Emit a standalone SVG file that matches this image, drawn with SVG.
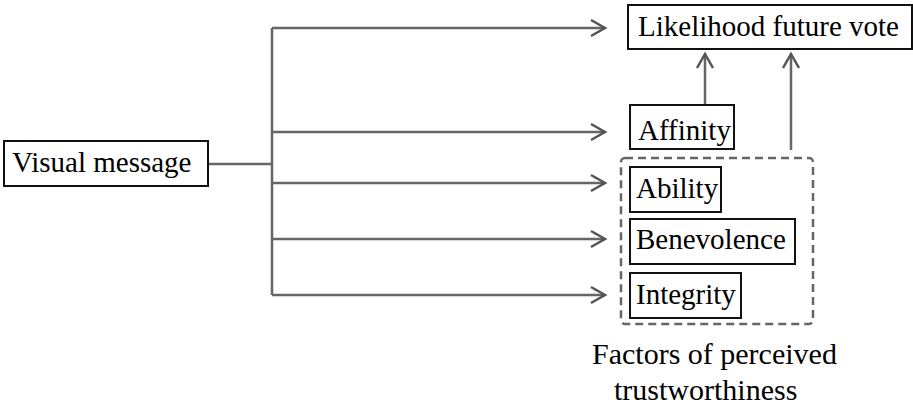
<svg xmlns="http://www.w3.org/2000/svg" width="913" height="405" viewBox="0 0 913 405">
  <style>
    .box { fill: #fff; stroke: #111; stroke-width: 2; }
    .lbl { font-family: "Times New Roman", "Liberation Serif", Tinos, serif; font-size: 29px; fill: #000; }
    .cap { font-size: 30px; }
    .wire { fill: none; stroke: #666; stroke-width: 2.5; }
    .group { fill: none; stroke: #666; stroke-width: 2.5; stroke-dasharray: 8 5; }
  </style>
  <defs>
    <marker id="chev" markerUnits="userSpaceOnUse" markerWidth="20" markerHeight="20" viewBox="-16 -10 20 20" refX="0" refY="0" orient="auto">
      <path d="M-14,-8 L0,0 L-14,8" fill="none" stroke="#555" stroke-width="2.5"/>
    </marker>
  </defs>
  <rect width="913" height="405" fill="#fff"/>

  <g id="connectors">
    <path class="wire" d="M208,164 H272"/>
    <path class="wire" d="M272,28 V295"/>
    <path class="wire" d="M272,28 H605" marker-end="url(#chev)"/>
    <path class="wire" d="M272,132 H605" marker-end="url(#chev)"/>
    <path class="wire" d="M272,183 H605" marker-end="url(#chev)"/>
    <path class="wire" d="M272,239 H605" marker-end="url(#chev)"/>
    <path class="wire" d="M272,295 H605" marker-end="url(#chev)"/>
    <path class="wire" d="M705,105 V54" marker-end="url(#chev)"/>
    <path class="wire" d="M791,150 V54" marker-end="url(#chev)"/>
  </g>

  <g id="visual-message">
    <rect class="box" x="4" y="141" width="204" height="45"/>
    <text class="lbl" x="12" y="172">Visual message</text>
  </g>

  <g id="likelihood-future-vote">
    <rect class="box" x="628" y="5" width="284" height="44"/>
    <text class="lbl" x="638" y="36">Likelihood future vote</text>
  </g>

  <g id="affinity">
    <rect class="box" x="630" y="105" width="104" height="44"/>
    <text class="lbl" x="638" y="140">Affinity</text>
  </g>

  <g id="trustworthiness-factors">
    <rect class="group" x="621" y="158" width="192" height="166" rx="4"/>
    <text class="lbl cap" x="592" y="364">Factors of perceived</text>
    <text class="lbl cap" x="614" y="400">trustworthiness</text>
  </g>

  <g id="ability">
    <rect class="box" x="630" y="167" width="91" height="45"/>
    <text class="lbl" x="636" y="198">Ability</text>
  </g>

  <g id="benevolence">
    <rect class="box" x="630" y="219" width="165" height="45"/>
    <text class="lbl" x="636" y="249">Benevolence</text>
  </g>

  <g id="integrity">
    <rect class="box" x="630" y="273" width="111" height="45"/>
    <text class="lbl" x="636" y="304">Integrity</text>
  </g>
</svg>
